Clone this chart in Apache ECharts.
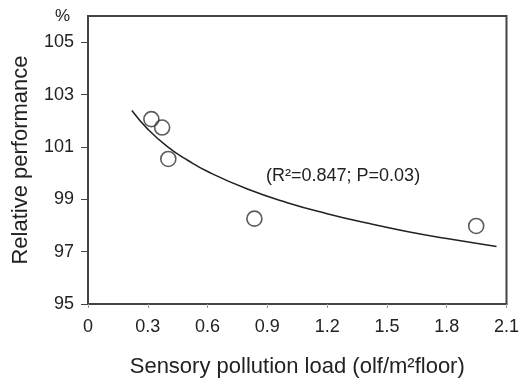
<!DOCTYPE html>
<html><head><meta charset="utf-8">
<script src="https://cdn.jsdelivr.net/npm/echarts@6/dist/echarts.min.js"></script>
<style>html,body{margin:0;padding:0;background:#fff}#c{width:522px;height:383px}</style>
</head><body><div id="c"></div>
<script>
// Observed data points (sensory pollution load, relative performance %)
var pointX = [0.318, 0.372, 0.403, 0.835, 1.948];
var pointY = [102.06, 101.74, 100.54, 98.26, 97.98];
// Fitted curve
var curveX = [0.22, 0.3, 0.4, 0.5, 0.6, 0.8, 1.0, 1.2, 1.4, 1.6, 1.8, 2.05];
var curveY = [102.39, 101.68, 101.0, 100.49, 100.06, 99.39, 98.87, 98.45, 98.09, 97.77, 97.5, 97.2];
var yTicks = [95, 97, 99, 101, 103, 105];
var xTicks = [0, 0.3, 0.6, 0.9, 1.2, 1.5, 1.8, 2.1];
var annotText = '(R\u00b2=0.847; P=0.03)';
var annotPos = [1.28, 99.9];

var font = "'Liberation Sans', Arial, sans-serif";
var chart = echarts.init(document.getElementById('c'));
function zip(a, b) { return a.map(function (v, i) { return [v, b[i]]; }); }
chart.setOption({
  animation: false,
  title: { text: '%', left: 50, top: 3, textStyle: { fontFamily: font, fontSize: 17, fontWeight: 'normal', color: '#222' } },
  grid: { left: 88, right: 13, top: 16, bottom: 78, show: true, borderColor: '#444', borderWidth: 2 },
  xAxis: {
    type: 'value', min: 0, max: 2.1, interval: 0.3,
    axisLine: { show: true, lineStyle: { color: '#444', width: 2 } },
    axisTick: { show: true, length: 4, lineStyle: { color: '#999' }, customValues: xTicks },
    axisLabel: { customValues: xTicks, margin: 14, fontFamily: font, fontSize: 18, color: '#222', formatter: function (v) { return String(Math.round(v * 10) / 10); } },
    splitLine: { show: false },
    name: 'Sensory pollution load (olf/m\u00b2floor)', nameLocation: 'middle', nameGap: 52,
    nameTextStyle: { fontFamily: font, fontSize: 22, color: '#222' }
  },
  yAxis: {
    type: 'value', min: 95, max: 106, interval: 2,
    axisLine: { show: true, lineStyle: { color: '#444', width: 2 } },
    axisTick: { show: true, length: 7, lineStyle: { color: '#444' }, customValues: yTicks },
    axisLabel: { customValues: yTicks, margin: 14, fontFamily: font, fontSize: 18, color: '#222' },
    splitLine: { show: false },
    name: 'Relative performance', nameLocation: 'middle', nameGap: 56,
    nameTextStyle: { fontFamily: font, fontSize: 22, color: '#222' }
  },
  series: [
    {
      type: 'line', data: zip(curveX, curveY), smooth: true, symbol: 'none',
      lineStyle: { color: '#222', width: 1.5 },
      markPoint: {
        symbol: 'circle', symbolSize: 1,
        itemStyle: { color: 'rgba(0,0,0,0)' },
        data: [{ coord: annotPos, value: 1 }],
        label: { show: true, position: 'inside', formatter: annotText, fontFamily: font, fontSize: 18, color: '#222' }
      }
    },
    {
      type: 'scatter', data: zip(pointX, pointY), symbol: 'circle', symbolSize: 15,
      itemStyle: { color: 'rgba(255,255,255,0)', borderColor: '#333', borderWidth: 1.6 }
    }
  ]
});
</script></body></html>
